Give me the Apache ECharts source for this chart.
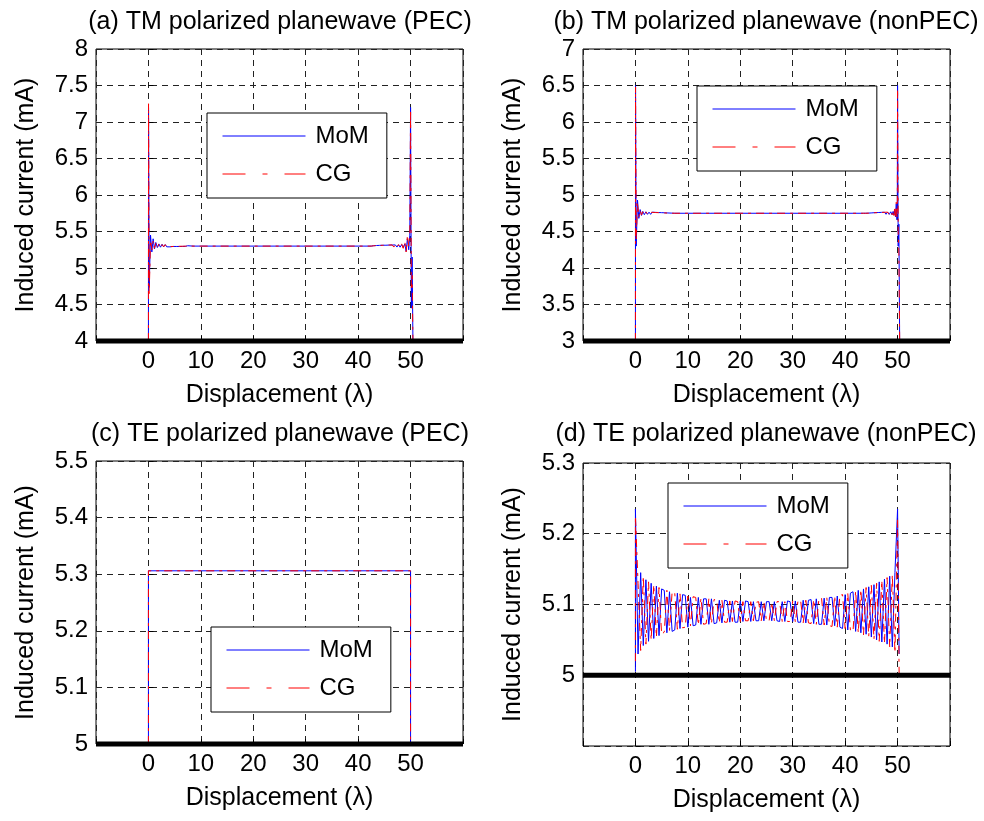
<!DOCTYPE html>
<html>
<head>
<meta charset="utf-8">
<title>Induced current</title>
<script src="https://cdn.jsdelivr.net/npm/echarts@6/dist/echarts.min.js"></script>
<style>
  html, body { margin: 0; padding: 0; background: #fff; }
  #chart { width: 984px; height: 821px; }
</style>
</head>
<body>
<div id="chart"></div>
<script>
// (a) TM polarized planewave (PEC)
const dispA = [
  0, 0.02, 0.15, 0.4, 0.65, 0.9, 1.15, 1.4, 1.7, 2.0,
  2.3, 2.6, 2.9, 3.2, 3.5, 3.8, 4.1, 4.4, 4.7, 5.0,
  5.3, 5.6, 5.9, 6.2, 6.5, 6.8, 7.1, 7.5, 8.5, 10,
  40, 42.5, 42.9, 43.2, 43.5, 43.8, 44.1, 44.4, 44.7, 45.0,
  45.3, 45.6, 45.9, 46.2, 46.5, 46.8, 47.1, 47.4, 47.7, 48.0,
  48.3, 48.6, 48.9, 49.15, 49.4, 49.65, 49.85, 50, 50.15, 50.3,
  50.45
];
const momA = [
  4, 7.2, 4.75, 5.45, 5.22, 5.4, 5.26, 5.35, 5.28, 5.33,
  5.285, 5.325, 5.29, 5.32, 5.29, 5.315, 5.29, 5.315, 5.295, 5.31,
  5.295, 5.31, 5.295, 5.31, 5.295, 5.308, 5.297, 5.305, 5.3, 5.3,
  5.3, 5.3, 5.305, 5.295, 5.308, 5.292, 5.31, 5.292, 5.312, 5.29,
  5.312, 5.29, 5.314, 5.29, 5.315, 5.288, 5.316, 5.287, 5.318, 5.285,
  5.32, 5.28, 5.33, 5.23, 5.4, 5.25, 5.45, 7.2, 4.45, 5.15,
  4
];
const cgA = [
  4, 7.25, 4.65, 5.38, 5.25, 5.37, 5.27, 5.34, 5.28, 5.33,
  5.29, 5.32, 5.29, 5.32, 5.292, 5.315, 5.293, 5.312, 5.295, 5.31,
  5.296, 5.308, 5.297, 5.306, 5.298, 5.305, 5.299, 5.303, 5.3, 5.3,
  5.3, 5.3, 5.304, 5.296, 5.307, 5.293, 5.309, 5.292, 5.311, 5.29,
  5.313, 5.289, 5.314, 5.288, 5.316, 5.287, 5.317, 5.286, 5.32, 5.284,
  5.33, 5.27, 5.36, 5.22, 5.45, 5.3, 5.35, 7.17, 4.7, 4.9,
  4
];

// (b) TM polarized planewave (nonPEC)
const dispB = [
  0, 0.02, 0.15, 0.4, 0.65, 0.9, 1.15, 1.4, 1.7, 2.0,
  2.3, 2.6, 2.9, 3.2, 3.5, 3.8, 4.1, 4.4, 4.7, 5.0,
  5.3, 5.6, 5.9, 6.2, 6.5, 6.8, 7.1, 7.5, 8.5, 10,
  40, 43.5, 43.9, 44.2, 44.5, 44.8, 45.1, 45.4, 45.7, 46.0,
  46.3, 46.6, 46.9, 47.2, 47.5, 47.8, 48.1, 48.4, 48.7, 48.95,
  49.15, 49.3, 49.45, 49.6, 49.75, 49.88, 49.95, 50, 50.12, 50.25,
  50.4
];
const momB = [
  3, 6.5, 4.3, 4.93, 4.68, 4.8, 4.72, 4.775, 4.73, 4.77,
  4.735, 4.765, 4.735, 4.765, 4.738, 4.762, 4.74, 4.76, 4.742, 4.758,
  4.744, 4.756, 4.746, 4.754, 4.748, 4.752, 4.75, 4.75, 4.75, 4.75,
  4.75, 4.75, 4.75, 4.75, 4.752, 4.748, 4.755, 4.742, 4.758, 4.74,
  4.76, 4.738, 4.762, 4.737, 4.764, 4.736, 4.766, 4.734, 4.77, 4.73,
  4.775, 4.725, 4.8, 4.7, 4.88, 4.66, 4.9, 6.5, 4.3, 4.6,
  3
];
const cgB = [
  3, 6.48, 4.4, 4.88, 4.7, 4.79, 4.725, 4.77, 4.732, 4.768,
  4.736, 4.764, 4.738, 4.762, 4.74, 4.76, 4.742, 4.758, 4.744, 4.756,
  4.746, 4.754, 4.748, 4.752, 4.749, 4.751, 4.75, 4.75, 4.75, 4.75,
  4.75, 4.75, 4.75, 4.75, 4.751, 4.749, 4.754, 4.744, 4.757, 4.741,
  4.759, 4.739, 4.761, 4.738, 4.763, 4.736, 4.765, 4.735, 4.768, 4.73,
  4.78, 4.72, 4.82, 4.68, 4.9, 4.7, 4.85, 6.45, 4.5, 4.2,
  3
];

// (c) TE polarized planewave (PEC)
const dispC = [0, 0, 50, 50];
const momC = [5, 5.306, 5.306, 5];
const cgC = [5, 5.306, 5.306, 5];

// (d) TE polarized planewave (nonPEC)
const dispD = [
  0, 0, 0.5, 1, 1.5, 2, 2.5, 3, 3.5, 4,
  4.5, 5, 5.5, 6, 6.5, 7, 7.5, 8, 8.5, 9,
  9.5, 10, 10.5, 11, 11.5, 12, 12.5, 13, 13.5, 14,
  14.5, 15, 15.5, 16, 16.5, 17, 17.5, 18, 18.5, 19,
  19.5, 20, 20.5, 21, 21.5, 22, 22.5, 23, 23.5, 24,
  24.5, 25, 25.5, 26, 26.5, 27, 27.5, 28, 28.5, 29,
  29.5, 30, 30.5, 31, 31.5, 32, 32.5, 33, 33.5, 34,
  34.5, 35, 35.5, 36, 36.5, 37, 37.5, 38, 38.5, 39,
  39.5, 40, 40.5, 41, 41.5, 42, 42.5, 43, 43.5, 44,
  44.5, 45, 45.5, 46, 46.5, 47, 47.5, 48, 48.5, 49,
  49.5, 50, 50.3
];
const momD = [
  5.005, 5.235, 5.03, 5.145, 5.042, 5.135, 5.048, 5.13, 5.052, 5.126,
  5.056, 5.122, 5.12, 5.06, 5.118, 5.062, 5.064, 5.116, 5.066, 5.114,
  5.113, 5.068, 5.11, 5.07, 5.071, 5.11, 5.072, 5.108, 5.108, 5.072,
  5.108, 5.073, 5.074, 5.106, 5.074, 5.106, 5.105, 5.075, 5.105, 5.075,
  5.075, 5.105, 5.076, 5.105, 5.104, 5.076, 5.104, 5.077, 5.077, 5.104,
  5.077, 5.104, 5.104, 5.077, 5.104, 5.077, 5.076, 5.104, 5.076, 5.105,
  5.104, 5.076, 5.105, 5.075, 5.075, 5.106, 5.074, 5.106, 5.107, 5.073,
  5.108, 5.072, 5.072, 5.109, 5.071, 5.11, 5.11, 5.07, 5.112, 5.068,
  5.066, 5.114, 5.064, 5.116, 5.118, 5.062, 5.12, 5.06, 5.122, 5.058,
  5.125, 5.054, 5.128, 5.05, 5.132, 5.047, 5.136, 5.044, 5.14, 5.04,
  5.145, 5.235, 5.03
];
const cgD = [
  5.02, 5.225, 5.13, 5.035, 5.14, 5.044, 5.132, 5.05, 5.128, 5.054,
  5.124, 5.058, 5.061, 5.12, 5.063, 5.118, 5.116, 5.065, 5.115, 5.067,
  5.068, 5.112, 5.07, 5.111, 5.11, 5.071, 5.109, 5.072, 5.073, 5.108,
  5.073, 5.107, 5.106, 5.074, 5.106, 5.075, 5.075, 5.105, 5.076, 5.105,
  5.104, 5.076, 5.104, 5.077, 5.077, 5.104, 5.077, 5.103, 5.104, 5.077,
  5.104, 5.077, 5.077, 5.103, 5.077, 5.104, 5.104, 5.076, 5.104, 5.076,
  5.076, 5.105, 5.075, 5.105, 5.106, 5.074, 5.106, 5.074, 5.073, 5.107,
  5.072, 5.108, 5.109, 5.071, 5.11, 5.07, 5.069, 5.112, 5.068, 5.113,
  5.114, 5.066, 5.116, 5.064, 5.062, 5.119, 5.06, 5.121, 5.057, 5.124,
  5.055, 5.127, 5.051, 5.13, 5.048, 5.134, 5.045, 5.138, 5.04, 5.142,
  5.032, 5.222, 5.0
];

const titles = [
  "(a) TM polarized planewave (PEC)",
  "(b) TM polarized planewave (nonPEC)",
  "(c) TE polarized planewave (PEC)",
  "(d) TE polarized planewave (nonPEC)"
];
const yMin = [4, 3, 5, 4.9];
const yMax = [8, 7, 5.5, 5.3];
const yStep = [0.5, 0.5, 0.1, 0.1];
const yLabelFrom = [4, 3, 5, 5];
// thick black baseline drawn across each panel
const baseLevel = [4, 3, 5, 5];
const xMin = -10, xMax = 60, xStep = 10;
const xLabelTo = 50;

const dispAll = [dispA, dispB, dispC, dispD];
const momAll = [momA, momB, momC, momD];
const cgAll = [cgA, cgB, cgC, cgD];

// layout (pixels)
const grids = [
  { left: 96, top: 49, width: 367, height: 292 },
  { left: 583, top: 49, width: 367, height: 292 },
  { left: 96, top: 461, width: 367, height: 283 },
  { left: 583, top: 463, width: 367, height: 283 }
];
const legendPos = [
  { left: 207, top: 113 },
  { left: 697, top: 86 },
  { left: 211, top: 627 },
  { left: 668, top: 483 }
];
const titlePos = [
  { left: 280, top: 10 },
  { left: 766, top: 10 },
  { left: 280, top: 422 },
  { left: 766, top: 422 }
];

const FONT = "'Liberation Sans', Arial, Helvetica, sans-serif";
const dashDot = [8, 5, 3, 5];

const zip = (xs, ys) => xs.map((x, k) => [x, ys[k]]);

var option = {
  animation: false,
  backgroundColor: "#fff",
  textStyle: { fontFamily: FONT },
  title: [],
  legend: [],
  grid: [],
  xAxis: [],
  yAxis: [],
  series: []
};

for (let i = 0; i < 4; i++) {
  option.title.push({
    text: titles[i],
    left: titlePos[i].left,
    top: titlePos[i].top,
    textAlign: "center",
    padding: 0,
    textStyle: { fontFamily: FONT, fontSize: 25, fontWeight: "normal", color: "#000" }
  });
  option.grid.push(Object.assign({
    show: true,
    borderColor: "#000",
    borderWidth: 1,
    backgroundColor: "#fff"
  }, grids[i]));
  option.xAxis.push({
    type: "value",
    gridIndex: i,
    min: xMin,
    max: xMax,
    interval: xStep,
    name: "Displacement (λ)",
    nameLocation: "middle",
    nameGap: 42,
    nameTextStyle: { fontFamily: FONT, fontSize: 25, color: "#000" },
    axisLine: { show: false },
    axisTick: { show: true, inside: true, length: 5, lineStyle: { color: "#000" } },
    axisLabel: {
      fontFamily: FONT,
      fontSize: 24,
      color: "#000",
      margin: 8,
      formatter: function (v) {
        return v < 0 || v > xLabelTo ? "" : String(v);
      }
    },
    splitLine: { show: true, lineStyle: { color: "#222", type: [6, 5], width: 1 } }
  });
  option.yAxis.push({
    type: "value",
    gridIndex: i,
    min: yMin[i],
    max: yMax[i],
    interval: yStep[i],
    name: "Induced current (mA)",
    nameLocation: "middle",
    nameGap: 57,
    nameTextStyle: { fontFamily: FONT, fontSize: 25, color: "#000" },
    axisLine: { show: false },
    axisTick: { show: true, inside: true, length: 5, lineStyle: { color: "#000" } },
    axisLabel: {
      fontFamily: FONT,
      fontSize: 24,
      color: "#000",
      margin: 8,
      formatter: function (v) {
        return v < yLabelFrom[i] - 1e-9 ? "" : String(+v.toFixed(2));
      }
    },
    splitLine: { show: true, lineStyle: { color: "#222", type: [6, 5], width: 1 } }
  });
  option.series.push({
    name: "MoM",
    type: "line",
    xAxisIndex: i,
    yAxisIndex: i,
    symbol: "none",
    clip: true,
    data: zip(dispAll[i], momAll[i]),
    lineStyle: { color: "#0000ff", width: 1 },
    itemStyle: { color: "#0000ff" },
    z: 3
  });
  option.series.push({
    name: "CG",
    type: "line",
    xAxisIndex: i,
    yAxisIndex: i,
    symbol: "none",
    clip: true,
    data: zip(dispAll[i], cgAll[i]),
    lineStyle: { color: "#ff0000", width: 1, type: dashDot },
    itemStyle: { color: "#ff0000" },
    z: 4
  });
  option.series.push({
    name: "base",
    type: "line",
    xAxisIndex: i,
    yAxisIndex: i,
    symbol: "none",
    clip: false,
    silent: true,
    data: [[xMin, baseLevel[i]], [xMax, baseLevel[i]]],
    lineStyle: { color: "#000", width: 5 },
    z: 5
  });
  option.legend.push({
    left: legendPos[i].left,
    top: legendPos[i].top,
    orient: "vertical",
    selectedMode: false,
    backgroundColor: "#fff",
    borderColor: "#000",
    borderWidth: 1,
    borderRadius: 0,
    padding: [11, 18, 12, 15],
    itemWidth: 83,
    itemHeight: 24,
    itemGap: 14,
    textStyle: { fontFamily: FONT, fontSize: 24, color: "#000", padding: [0, 0, 0, 5] },
    data: [
      {
        name: "MoM",
        itemStyle: { opacity: 0, borderWidth: 0 },
        lineStyle: { color: "#0000ff", width: 1, type: "solid" }
      },
      {
        name: "CG",
        itemStyle: { opacity: 0, borderWidth: 0 },
        lineStyle: { color: "#ff0000", width: 1, type: [23, 17, 5, 17] }
      }
    ],
    z: 10
  });
}

var chart = echarts.init(document.getElementById("chart"), null, { renderer: "canvas" });
chart.setOption(option);
</script>
</body>
</html>
